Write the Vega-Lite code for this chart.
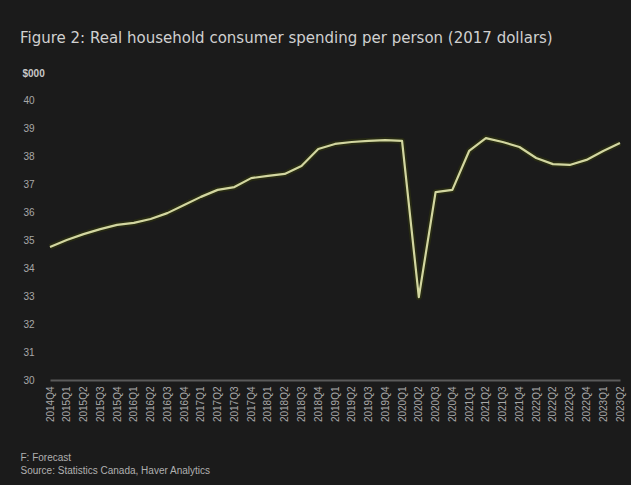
{
  "$schema": "https://vega.github.io/schema/vega-lite/v6.json",
  "width": 570,
  "height": 280,
  "autosize": {"type": "none"},
  "padding": {"left": 50, "top": 100, "right": 11, "bottom": 105},
  "background": "#1b1b1b",
  "config": {
    "view": {"stroke": null},
    "font": "Liberation Sans"
  },
  "title": {
    "text": "Figure 2: Real household consumer spending per person (2017 dollars)",
    "anchor": "start",
    "frame": "group",
    "dx": -30,
    "offset": 22,
    "font": "DejaVu Sans",
    "fontSize": 15,
    "fontWeight": "normal",
    "color": "#d0d0d0"
  },
  "data": {
    "values": [
      {"quarter": "2014Q4", "spending": 34.75},
      {"quarter": "2015Q1", "spending": 35.0},
      {"quarter": "2015Q2", "spending": 35.21},
      {"quarter": "2015Q3", "spending": 35.39},
      {"quarter": "2015Q4", "spending": 35.54},
      {"quarter": "2016Q1", "spending": 35.61},
      {"quarter": "2016Q2", "spending": 35.75},
      {"quarter": "2016Q3", "spending": 35.96},
      {"quarter": "2016Q4", "spending": 36.25},
      {"quarter": "2017Q1", "spending": 36.54},
      {"quarter": "2017Q2", "spending": 36.79},
      {"quarter": "2017Q3", "spending": 36.89},
      {"quarter": "2017Q4", "spending": 37.21},
      {"quarter": "2018Q1", "spending": 37.29},
      {"quarter": "2018Q2", "spending": 37.36},
      {"quarter": "2018Q3", "spending": 37.64},
      {"quarter": "2018Q4", "spending": 38.25},
      {"quarter": "2019Q1", "spending": 38.43},
      {"quarter": "2019Q2", "spending": 38.5},
      {"quarter": "2019Q3", "spending": 38.54},
      {"quarter": "2019Q4", "spending": 38.57},
      {"quarter": "2020Q1", "spending": 38.54},
      {"quarter": "2020Q2", "spending": 32.96},
      {"quarter": "2020Q3", "spending": 36.71},
      {"quarter": "2020Q4", "spending": 36.79},
      {"quarter": "2021Q1", "spending": 38.18},
      {"quarter": "2021Q2", "spending": 38.64},
      {"quarter": "2021Q3", "spending": 38.5},
      {"quarter": "2021Q4", "spending": 38.32},
      {"quarter": "2022Q1", "spending": 37.93},
      {"quarter": "2022Q2", "spending": 37.71},
      {"quarter": "2022Q3", "spending": 37.68},
      {"quarter": "2022Q4", "spending": 37.86},
      {"quarter": "2023Q1", "spending": 38.18},
      {"quarter": "2023Q2", "spending": 38.46}
    ]
  },
  "encoding": {
    "x": {
      "field": "quarter",
      "type": "ordinal",
      "sort": null,
      "scale": {"type": "point", "padding": 0},
      "axis": {
        "labelAngle": -90,
        "labelFontSize": 10,
        "labelColor": "#a8a8a8",
        "labelPadding": 6,
        "ticks": false,
        "domainColor": "#5a5a5a",
        "domainWidth": 2,
        "title": ["F: Forecast", "Source: Statistics Canada, Haver Analytics"],
        "titleAnchor": "start",
        "titleAlign": "left",
        "titleAngle": 0,
        "titleX": -30,
        "titleY": 72,
        "titleFontSize": 10,
        "titleFontWeight": "normal",
        "titleLineHeight": 13,
        "titleColor": "#b0b0b0"
      }
    },
    "y": {
      "field": "spending",
      "type": "quantitative",
      "scale": {"domain": [30, 40], "zero": false},
      "axis": {
        "values": [30, 31, 32, 33, 34, 35, 36, 37, 38, 39, 40],
        "grid": false,
        "domain": false,
        "ticks": false,
        "labelFontSize": 10,
        "labelColor": "#a8a8a8",
        "labelPadding": 16,
        "title": "$000",
        "titleAngle": 0,
        "titleAlign": "left",
        "titleBaseline": "middle",
        "titleX": -28,
        "titleY": -27,
        "titleFontSize": 10,
        "titleFontWeight": "bold",
        "titleColor": "#c8c8c8"
      }
    }
  },
  "layer": [
    {
      "mark": {"type": "line", "stroke": "#2c3012", "strokeWidth": 6, "opacity": 0.75, "strokeJoin": "round"}
    },
    {
      "mark": {"type": "line", "stroke": "#d2d6a0", "strokeWidth": 2.2, "strokeJoin": "round"}
    }
  ]
}
